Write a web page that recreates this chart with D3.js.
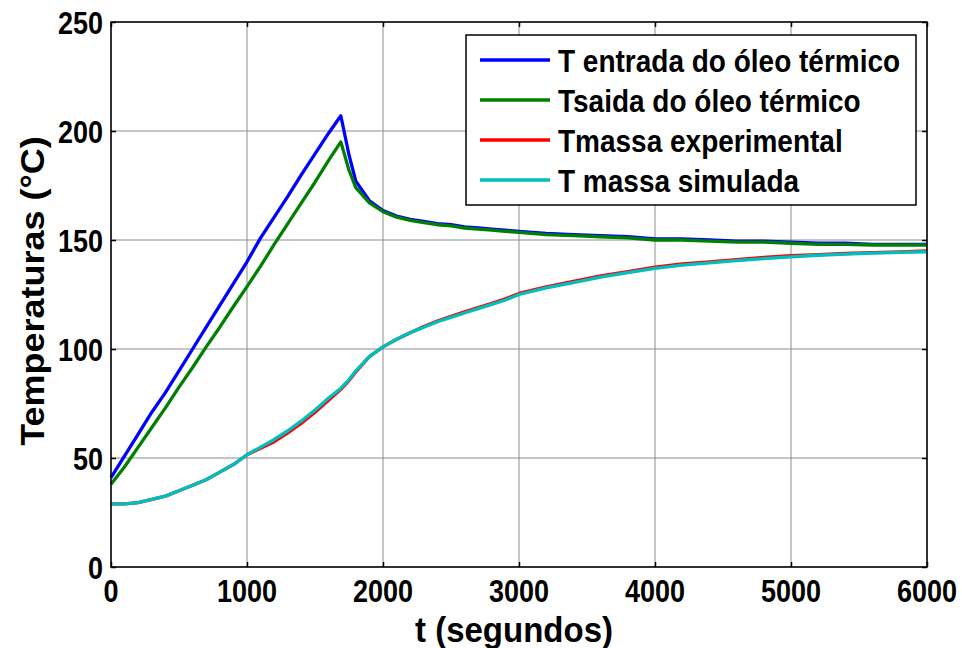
<!DOCTYPE html>
<html>
<head>
<meta charset="utf-8">
<script src="https://cdn.jsdelivr.net/npm/d3@7"></script>
<style>
html,body{margin:0;padding:0;background:#fff;}
svg{display:block;}
text{font-family:"Liberation Sans",Arial,"DejaVu Sans",sans-serif;font-weight:bold;fill:#000;}
</style>
</head>
<body>
<svg id="chart" width="962" height="648"></svg>
<script>
// ---- data ----
const times = [0,100,200,300,400,500,600,700,800,900,1000,1100,1200,1300,1400,1500,1600,1690,1750,1800,
  1900,2000,2100,2200,2300,2400,2500,2600,2700,2800,2900,3000,
  3200,3400,3600,3800,4000,4200,4400,4600,4800,5000,5200,5400,5600,5800,6000];

const tEntrada = [41,51,61,71,80,90,100,110,120,130,140,151,160.5,170,180,189.5,199,207,189,177,
  168,163.5,161,159.5,158.5,157.5,157,156,155.5,155,154.5,154,
  153,152.5,152,151.5,150.5,150.5,150,149.5,149.5,149,148.5,148.5,148,148,148];

const tSaida = [38,46,55,64,73,82.5,91.5,101,110,119.5,128.6,138,148,157.5,167,176.5,186.5,195,182,174,
  167,163,160.5,159,158,157,156.5,155.5,155,154.5,154,153.5,
  152.5,152,151.5,151,150,150,149.5,149,149,148.5,148,148,147.7,147.7,147.7];

const tMassaExp = [29,29,29.5,31,32.5,35,37.5,40,43.5,47,51.5,54.5,57.5,61.5,66,71,76.5,81.5,85.5,89.5,
  96.5,101,104.5,107.5,110.3,112.8,115,117,119,121,123,125.5,
  128.5,131,133.5,135.5,137.5,139,140,141,142,142.8,143.3,143.8,144.2,144.5,145];

const tMassaSim = [29,29,29.5,31,32.5,35,37.5,40,43.5,47,51.5,55,58.5,62.5,67,72,77.5,82,86,90,
  96.5,101,104.5,107.5,110,112.5,114.5,116.5,118.5,120.5,122.5,125,
  128,130.5,133,135,137,138.5,139.5,140.5,141.5,142.3,143,143.5,144,144.3,144.6];

const xTicks = [0,1000,2000,3000,4000,5000,6000];
const yTicks = [0,50,100,150,200,250];

const seriesNames = ["T entrada do óleo térmico","Tsaida do óleo térmico","Tmassa experimental","T massa simulada"];
const seriesColors = ["#0000ff","#008000","#ff0000","#00bfbf"];
const seriesValues = [tEntrada, tSaida, tMassaExp, tMassaSim];

const xTitle = "t (segundos)";
const yTitle = "Temperaturas (°C)";

// ---- layout ----
const L = 111, R = 927, T = 22, B = 567;
const svg = d3.select("#chart");
const x = d3.scaleLinear().domain([0,6000]).range([L,R]);
const y = d3.scaleLinear().domain([0,250]).range([B,T]);

// grid
const grid = svg.append("g");
grid.selectAll("line.gx").data(xTicks).join("line")
  .attr("x1", d=>x(d)).attr("x2", d=>x(d)).attr("y1", T).attr("y2", B)
  .attr("stroke", "#8c8c8c").attr("stroke-width", 1);
grid.selectAll("line.gy").data(yTicks).join("line")
  .attr("x1", L).attr("x2", R).attr("y1", d=>y(d)).attr("y2", d=>y(d))
  .attr("stroke", "#8c8c8c").attr("stroke-width", 1);

// lines
const line = d3.line().x(d=>x(d[0])).y(d=>y(d[1]));
seriesValues.forEach((vals,i)=>{
  svg.append("path")
    .datum(times.map((t,j)=>[t,vals[j]]))
    .attr("d", line)
    .attr("fill","none")
    .attr("stroke", seriesColors[i])
    .attr("stroke-width", 3.3)
    .attr("stroke-linejoin","round");
});

// axes box
svg.append("rect").attr("x",L).attr("y",T).attr("width",R-L).attr("height",B-T)
  .attr("fill","none").attr("stroke","#000").attr("stroke-width",1.5);

// axes via d3 (ticks inside)
const tickLen = 5;
const axB = svg.append("g").attr("transform",`translate(0,${B})`)
  .call(d3.axisBottom(x).tickValues(xTicks).tickSize(-tickLen).tickFormat(""));
const axT = svg.append("g").attr("transform",`translate(0,${T})`)
  .call(d3.axisTop(x).tickValues(xTicks).tickSize(-tickLen).tickFormat(""));
const axL = svg.append("g").attr("transform",`translate(${L},0)`)
  .call(d3.axisLeft(y).tickValues(yTicks).tickSize(-tickLen).tickFormat(""));
const axRt = svg.append("g").attr("transform",`translate(${R},0)`)
  .call(d3.axisRight(y).tickValues(yTicks).tickSize(-tickLen).tickFormat(""));
[axB,axT,axL,axRt].forEach(a=>{
  a.select(".domain").remove();
  a.selectAll(".tick line").attr("stroke","#000").attr("stroke-width",1.5);
});

// tick labels (stretched vertically like the reference)
const sy = 1.15;
svg.append("g").selectAll("text").data(xTicks).join("text")
  .attr("transform", d=>`translate(${x(d)},602) scale(1,${sy})`)
  .attr("text-anchor","middle").attr("font-size",27)
  .text(d=>d);
svg.append("g").selectAll("text").data(yTicks).join("text")
  .attr("transform", d=>`translate(103,${y(d)+11.5}) scale(1,${sy})`)
  .attr("text-anchor","end").attr("font-size",27)
  .text(d=>d);

// titles
svg.append("text")
  .attr("transform",`translate(${(L+R)/2 - 5},641.5) scale(1,1.05)`)
  .attr("text-anchor","middle").attr("font-size",33)
  .text(xTitle);
svg.append("text")
  .attr("transform",`translate(44,291) rotate(-90) scale(1.09,1)`)
  .attr("text-anchor","middle").attr("font-size",33)
  .text(yTitle);

// legend
const lg = svg.append("g");
lg.append("rect").attr("x",466).attr("y",35).attr("width",450).attr("height",170)
  .attr("fill","#fff").attr("stroke","#000").attr("stroke-width",1.5);
seriesNames.forEach((name,i)=>{
  const cy = 60 + i*40;
  lg.append("line").attr("x1",480).attr("x2",550).attr("y1",cy).attr("y2",cy)
    .attr("stroke",seriesColors[i]).attr("stroke-width",3.3);
  lg.append("text")
    .attr("transform",`translate(558,${cy+11.5}) scale(1,1.15)`)
    .attr("font-size",28)
    .text(name);
});
</script>
</body>
</html>
